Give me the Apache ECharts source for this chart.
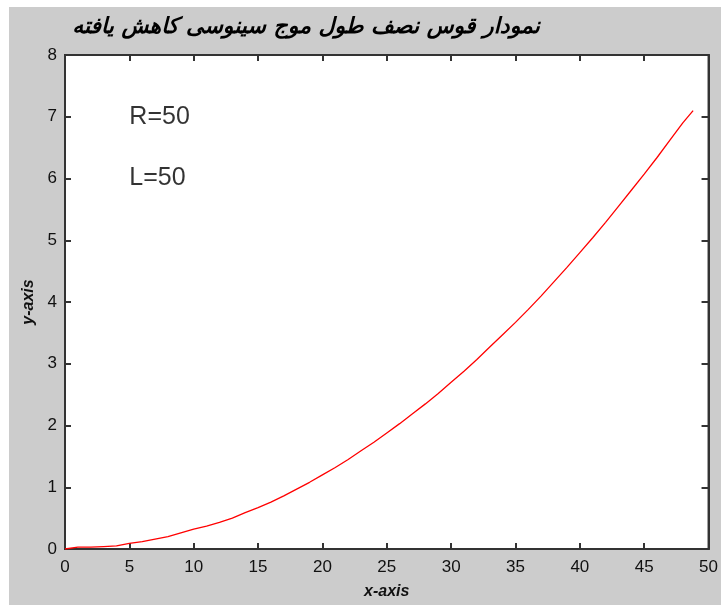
<!DOCTYPE html>
<html>
<head>
<meta charset="utf-8">
<script src="https://cdn.jsdelivr.net/npm/echarts@6/dist/echarts.min.js"></script>
<style>
  html, body { margin: 0; padding: 0; background: #ffffff; }
  #chart { position: absolute; left: 9px; top: 7px; width: 712px; height: 598px; }
</style>
</head>
<body>
<div id="chart"></div>
<script>
// Curve samples: reduced half-wavelength sine arc
const xValues = [0, 1, 2, 3, 4, 5, 6, 7, 8, 9, 10, 11, 12, 13, 14, 15, 16, 17, 18, 19,
  20, 21, 22, 23, 24, 25, 26, 27, 28, 29, 30, 31, 32, 33, 34, 35, 36, 37, 38, 39,
  40, 41, 42, 43, 44, 45, 46, 47, 48, 48.8];
const yValues = [0, 0.03, 0.03, 0.04, 0.05, 0.09, 0.12, 0.16, 0.2, 0.26, 0.32, 0.37, 0.43, 0.5, 0.59, 0.67, 0.76, 0.86, 0.97, 1.08,
  1.2, 1.32, 1.45, 1.59, 1.73, 1.88, 2.03, 2.19, 2.35, 2.52, 2.7, 2.88, 3.07, 3.27, 3.47, 3.67, 3.88, 4.1, 4.33, 4.56,
  4.8, 5.04, 5.29, 5.55, 5.81, 6.07, 6.34, 6.62, 6.9, 7.1];

// Parameter annotations placed in data coordinates
const noteTexts = ['R=50', 'L=50'];
const noteX = [5, 5];
const noteY = [7, 6];

const titleText = 'نمودار قوس نصف طول موج سینوسی کاهش یافته';
const xName = 'x-axis';
const yName = 'y-axis';

const axisColor = '#333333';
const labelStyle = { color: '#111111', fontSize: 17, fontFamily: 'Liberation Sans, Arial, sans-serif' };
const tickStyle = { color: axisColor, width: 2 };

const chart = echarts.init(document.getElementById('chart'));
chart.setOption({
  backgroundColor: '#cccccc',
  animation: false,
  title: {
    text: titleText,
    left: 292, top: 15,
    textAlign: 'center', textVerticalAlign: 'middle',
    textStyle: { fontFamily: 'DejaVu Sans', fontWeight: 'bold', fontStyle: 'italic', fontSize: 22, color: '#000' }
  },
  grid: {
    left: 56, right: 11, top: 48, bottom: 51,
    show: true, backgroundColor: '#ffffff', borderColor: axisColor, borderWidth: 2
  },
  xAxis: [{
    type: 'value', min: 0, max: 50, interval: 5,
    name: xName, nameLocation: 'middle', nameGap: 35,
    nameTextStyle: { fontFamily: 'Liberation Sans, Arial', fontWeight: 'bold', fontStyle: 'italic', fontSize: 16, color: '#111' },
    axisLine: { show: true, onZero: false, lineStyle: tickStyle },
    axisTick: { show: true, inside: true, length: 6, lineStyle: tickStyle },
    axisLabel: Object.assign({ margin: 10 }, labelStyle),
    splitLine: { show: false }
  }, {
    type: 'value', min: 0, max: 50, interval: 5, position: 'top',
    axisLine: { show: true, onZero: false, lineStyle: tickStyle },
    axisTick: { show: true, inside: true, length: 6, lineStyle: tickStyle },
    axisLabel: { show: false },
    splitLine: { show: false }
  }],
  yAxis: [{
    type: 'value', min: 0, max: 8, interval: 1,
    name: yName, nameLocation: 'middle', nameGap: 27, nameRotate: 90,
    nameTextStyle: { fontFamily: 'Liberation Sans, Arial', fontWeight: 'bold', fontStyle: 'italic', fontSize: 16, color: '#111' },
    axisLine: { show: true, onZero: false, lineStyle: tickStyle },
    axisTick: { show: true, inside: true, length: 6, lineStyle: tickStyle },
    axisLabel: Object.assign({ margin: 8 }, labelStyle),
    splitLine: { show: false }
  }, {
    type: 'value', min: 0, max: 8, interval: 1, position: 'right',
    axisLine: { show: true, onZero: false, lineStyle: tickStyle },
    axisTick: { show: true, inside: true, length: 7, lineStyle: tickStyle },
    axisLabel: { show: false },
    splitLine: { show: false }
  }],
  series: [{
    type: 'line',
    data: xValues.map((x, i) => [x, yValues[i]]),
    showSymbol: false,
    lineStyle: { color: '#ff0000', width: 1.3 },
    itemStyle: { color: '#ff0000' }
  }, {
    type: 'scatter',
    symbolSize: 0,
    data: noteTexts.map((t, i) => ({ value: [noteX[i], noteY[i]], name: t })),
    label: {
      show: true, position: 'right', distance: 0,
      formatter: p => p.name,
      fontFamily: 'Liberation Sans, Arial', fontSize: 25, color: '#000'
    }
  }]
});
</script>
</body>
</html>
